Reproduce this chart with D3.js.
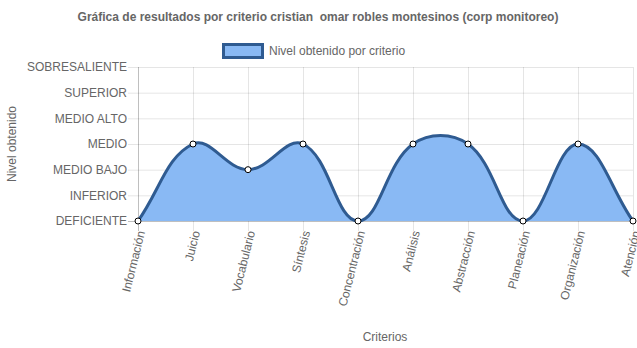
<!DOCTYPE html>
<html><head><meta charset="utf-8">
<script src="https://cdn.jsdelivr.net/npm/d3@7"></script>
<style>body{margin:0;background:#fff}svg{display:block}text{font-family:"Liberation Sans",Arial,sans-serif;white-space:pre}</style>
</head><body><svg id="c" width="637" height="348"></svg>
<script>
const title = "Gráfica de resultados por criterio cristian  omar robles montesinos (corp monitoreo)";
const seriesName = "Nivel obtenido por criterio";
const categories = ["Información","Juicio","Vocabulario","Síntesis","Concentración","Análisis","Abstracción","Planeación","Organización","Atención"];
const values = [0,3,2,3,0,3,3,0,3,0];
const levels = ["DEFICIENTE","INFERIOR","MEDIO BAJO","MEDIO","MEDIO ALTO","SUPERIOR","SOBRESALIENTE"];
const xTitle = "Criterios";
const yTitle = "Nivel obtenido";

const fillColor = "#89b9f4", lineColor = "#2f5b91", textColor = "#666";
const svg = d3.select("#c");
const L = 138, R = 633, T = 67, B = 221;
const x = d3.scalePoint().domain(categories).range([L, R]);
const y = d3.scaleLinear().domain([0, levels.length - 1]).range([B, T]);

// grid
const g = svg.append("g");
levels.forEach((lv, i) => {
  g.append("line").attr("x1", L - 10).attr("x2", R).attr("y1", y(i) + 0.5).attr("y2", y(i) + 0.5)
    .attr("stroke", i === 0 ? "rgba(0,0,0,0.25)" : "rgba(0,0,0,0.1)");
  g.append("text").attr("x", L - 11).attr("y", y(i)).attr("dy", "0.35em").attr("text-anchor", "end")
    .attr("font-size", 12).attr("fill", textColor).text(lv);
});
categories.forEach((c, i) => {
  g.append("line").attr("x1", x(c) + 0.5).attr("x2", x(c) + 0.5).attr("y1", T).attr("y2", B + 10)
    .attr("stroke", i === 0 ? "rgba(0,0,0,0.25)" : "rgba(0,0,0,0.1)");
  g.append("text").attr("transform", `translate(${x(c) + 3},${B + 10}) rotate(-76)`)
    .attr("text-anchor", "end").attr("dy", "0.35em").attr("font-size", 12).attr("fill", textColor).text(c);
});

// Chart.js-like spline
const pts = categories.map((c, i) => ({x: x(c), y: y(values[i])}));
const tension = 0.4;
pts.forEach((p, i) => {
  const prev = pts[i - 1] || p, next = pts[i + 1] || p;
  const d01 = Math.hypot(p.x - prev.x, p.y - prev.y), d12 = Math.hypot(next.x - p.x, next.y - p.y);
  let s01 = d01 / (d01 + d12), s12 = d12 / (d01 + d12);
  if (isNaN(s01)) s01 = 0; if (isNaN(s12)) s12 = 0;
  const fa = tension * s01, fb = tension * s12;
  const cl = (v, a, b) => Math.max(a, Math.min(b, v));
  p.cpx1 = cl(p.x - fa * (next.x - prev.x), L, R); p.cpy1 = cl(p.y - fa * (next.y - prev.y), T, B);
  p.cpx2 = cl(p.x + fb * (next.x - prev.x), L, R); p.cpy2 = cl(p.y + fb * (next.y - prev.y), T, B);
});
let dLine = `M${pts[0].x},${pts[0].y}`;
for (let i = 1; i < pts.length; i++) {
  const a = pts[i - 1], b = pts[i];
  dLine += `C${a.cpx2},${a.cpy2},${b.cpx1},${b.cpy1},${b.x},${b.y}`;
}
const dArea = dLine + `L${pts[pts.length - 1].x},${B}L${pts[0].x},${B}Z`;
svg.append("path").attr("d", dArea).attr("fill", fillColor);
svg.append("path").attr("d", dLine).attr("fill", "none").attr("stroke", lineColor).attr("stroke-width", 3);
svg.selectAll("circle.pt").data(pts).enter().append("circle").attr("class", "pt")
  .attr("cx", d => d.x).attr("cy", d => d.y).attr("r", 3).attr("fill", "#fff").attr("stroke", "#000").attr("stroke-width", 1);

// titles
svg.append("text").attr("x", 318).attr("y", 17).attr("dy", "0.35em").attr("text-anchor", "middle")
  .attr("font-size", 12).attr("font-weight", "bold").attr("fill", textColor).text(title);
svg.append("rect").attr("x", 223.5).attr("y", 44.5).attr("width", 39).attr("height", 13)
  .attr("fill", fillColor).attr("stroke", lineColor).attr("stroke-width", 3);
svg.append("text").attr("x", 269).attr("y", 51).attr("dy", "0.35em").attr("font-size", 12).attr("fill", textColor).text(seriesName);
svg.append("text").attr("transform", "translate(12,144) rotate(-90)").attr("dy", "0.35em").attr("text-anchor", "middle")
  .attr("font-size", 12).attr("fill", textColor).text(yTitle);
svg.append("text").attr("x", 385).attr("y", 337).attr("dy", "0.35em").attr("text-anchor", "middle")
  .attr("font-size", 12).attr("fill", textColor).text(xTitle);
</script></body></html>
